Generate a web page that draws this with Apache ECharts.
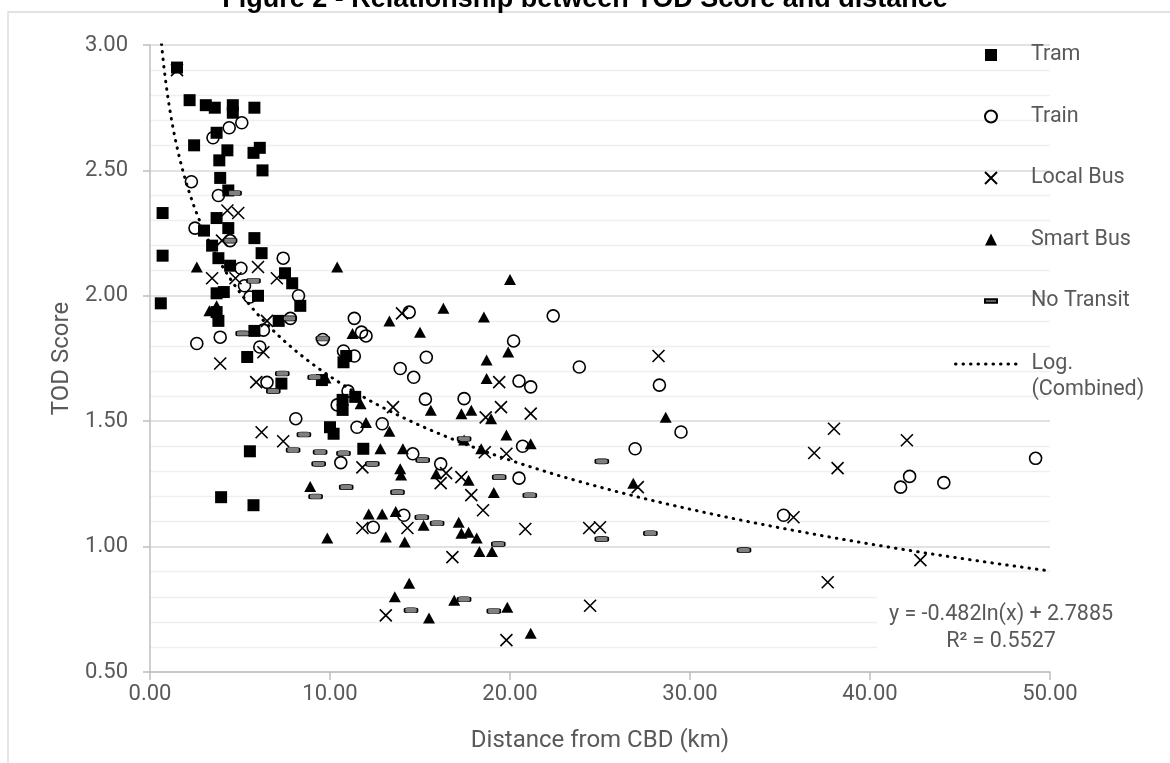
<!DOCTYPE html>
<html><head><meta charset="utf-8">
<script src="https://cdn.jsdelivr.net/npm/echarts@6/dist/echarts.min.js"></script>
<style>html,body{margin:0;padding:0;background:#fff}#c{width:1170px;height:763px}</style>
</head><body><div id="c"></div>
<script>
// Data: [distance km, TOD score]
const tram = [[1.5,2.91],[0.7,2.33],[0.7,2.16],[0.6,1.97],[2.2,2.78],[2.45,2.60],[3.1,2.76],[3.6,2.75],[4.6,2.76],[4.6,2.73],[5.8,2.75],[3.7,2.65],[4.3,2.58],[3.85,2.54],[5.75,2.57],[6.1,2.59],[6.25,2.50],[3.9,2.47],[4.35,2.42],[3.7,2.31],[4.35,2.27],[3.0,2.26],[3.45,2.20],[5.8,2.23],[6.2,2.17],[3.8,2.15],[4.45,2.12],[7.5,2.09],[7.9,2.05],[8.35,1.96],[3.7,2.01],[4.1,2.015],[6.0,2.00],[3.7,1.935],[3.8,1.90],[5.8,1.86],[7.15,1.90],[5.4,1.756],[10.9,1.76],[10.75,1.735],[9.55,1.664],[7.3,1.65],[10.7,1.585],[11.4,1.597],[10.7,1.545],[10.0,1.476],[10.2,1.45],[5.55,1.38],[11.85,1.39],[3.95,1.197],[5.75,1.165]];
const train = [[5.1,2.69],[4.4,2.67],[3.5,2.63],[2.3,2.455],[3.8,2.40],[2.5,2.27],[4.45,2.22],[7.4,2.15],[5.05,2.11],[5.25,2.04],[5.55,1.995],[8.25,2.00],[2.6,1.81],[3.9,1.835],[6.3,1.863],[7.8,1.91],[6.1,1.796],[6.5,1.655],[11.35,1.91],[11.75,1.855],[12.0,1.84],[9.6,1.826],[10.75,1.78],[11.35,1.76],[11.0,1.62],[10.4,1.565],[11.5,1.476],[12.9,1.49],[8.1,1.51],[10.6,1.335],[13.9,1.71],[14.4,1.935],[22.4,1.92],[20.2,1.82],[15.35,1.755],[14.65,1.675],[23.85,1.716],[20.5,1.66],[21.15,1.637],[15.3,1.588],[17.45,1.59],[14.6,1.37],[16.15,1.33],[20.7,1.40],[20.5,1.273],[14.1,1.125],[12.4,1.077],[29.5,1.457],[26.95,1.39],[35.2,1.125],[41.7,1.237],[28.3,1.644],[49.2,1.352],[42.2,1.28],[44.1,1.255]];
const localBus = [[1.5,2.90],[4.3,2.34],[4.9,2.33],[4.0,2.22],[3.45,2.07],[4.75,2.07],[6.0,2.115],[7.05,2.07],[3.9,1.73],[6.5,1.90],[6.3,1.775],[5.9,1.656],[6.2,1.456],[7.4,1.42],[11.8,1.316],[13.5,1.556],[14.0,1.93],[19.4,1.656],[19.5,1.556],[21.15,1.53],[18.65,1.515],[18.6,1.376],[19.8,1.37],[16.45,1.293],[17.3,1.277],[16.15,1.253],[17.85,1.205],[18.5,1.145],[11.8,1.074],[14.3,1.074],[20.85,1.07],[16.8,0.958],[13.1,0.726],[19.8,0.627],[24.4,1.074],[25.0,1.077],[24.45,0.764],[27.1,1.237],[35.75,1.117],[38.0,1.47],[36.9,1.373],[38.2,1.313],[37.65,0.858],[28.25,1.76],[42.05,1.424],[42.8,0.946]];
const smartBus = [[2.6,2.115],[10.4,2.115],[3.3,1.94],[3.7,1.96],[13.3,1.90],[11.25,1.85],[9.75,1.672],[11.7,1.57],[12.0,1.495],[12.8,1.39],[8.9,1.24],[13.3,1.46],[20.0,2.065],[16.3,1.95],[18.55,1.915],[15.0,1.855],[18.7,1.744],[19.9,1.776],[18.7,1.67],[15.6,1.544],[17.3,1.53],[17.85,1.544],[18.95,1.51],[19.8,1.445],[17.45,1.425],[18.4,1.39],[21.15,1.41],[14.05,1.39],[13.9,1.31],[13.95,1.285],[15.9,1.29],[17.7,1.265],[19.1,1.216],[12.15,1.13],[12.9,1.13],[13.65,1.14],[15.2,1.085],[17.15,1.097],[17.3,1.053],[17.7,1.057],[18.15,1.034],[13.1,1.038],[14.15,1.018],[9.85,1.034],[18.3,0.98],[19.0,0.98],[14.4,0.854],[13.6,0.80],[16.9,0.786],[15.5,0.715],[19.85,0.758],[21.15,0.655],[28.65,1.516],[26.85,1.253]];
const noTransit = [[4.7,2.41],[4.45,2.22],[5.75,2.06],[5.15,1.85],[7.75,1.91],[9.6,1.83],[7.35,1.69],[6.85,1.62],[9.15,1.675],[8.55,1.447],[7.95,1.385],[9.45,1.377],[10.75,1.372],[9.37,1.33],[12.35,1.33],[10.9,1.237],[9.2,1.20],[13.75,1.217],[15.15,1.345],[19.4,1.277],[21.1,1.205],[15.1,1.117],[15.95,1.093],[19.35,1.01],[14.5,0.746],[17.45,0.79],[19.1,0.743],[25.1,1.34],[25.1,1.03],[27.8,1.053],[33.0,0.986],[17.45,1.43]];

// Trendline coefficients as printed on the chart: y = -0.482 ln(x) + 2.7885
const trendA = -0.482, trendB = 2.7885;
const trendRange = [0.64, 50];
const trendPts = [];
for (let i = 0; i <= 300; i++) {
  const x = trendRange[0] * Math.pow(trendRange[1] / trendRange[0], i / 300);
  trendPts.push([x, trendA * Math.log(x) + trendB]);
}

const FONT = 'Roboto, "Liberation Sans", Arial, sans-serif';
const GREY = '#595959';

const chart = echarts.init(document.getElementById('c'), null, {renderer: 'canvas'});
chart.setOption({
  animation: false,
  backgroundColor: '#fff',
  grid: {left: 150, right: 120, top: 45, bottom: 91, containLabel: false},
  xAxis: {
    type: 'value', min: 0, max: 50, interval: 10,
    name: 'Distance from CBD (km)', nameLocation: 'middle', nameGap: 57,
    nameTextStyle: {fontFamily: FONT, fontSize: 24, color: GREY},
    axisLine: {show: true, lineStyle: {color: '#bfbfbf', width: 1.5}},
    axisTick: {show: true, length: 8, lineStyle: {color: '#bfbfbf', width: 1.5}},
    axisLabel: {fontFamily: FONT, fontSize: 22, color: GREY, margin: 11, formatter: v => v.toFixed(2)},
    splitLine: {show: false}
  },
  yAxis: {
    type: 'value', min: 0.5, max: 3, interval: 0.5,
    name: 'TOD Score', nameLocation: 'middle', nameGap: 76, nameRotate: 90,
    nameTextStyle: {fontFamily: FONT, fontSize: 24, color: GREY},
    axisLine: {show: true, lineStyle: {color: '#bfbfbf', width: 1.5}},
    axisTick: {show: true, length: 7, lineStyle: {color: '#bfbfbf', width: 1.5}},
    axisLabel: {fontFamily: FONT, fontSize: 22, color: GREY, margin: 22, formatter: v => v.toFixed(2)},
    splitLine: {show: true, lineStyle: {color: '#d9d9d9', width: 1.5}},
    minorTick: {show: false, splitNumber: 5},
    minorSplitLine: {show: true, lineStyle: {color: '#efefef', width: 1.3}}
  },
  legend: [{
    orient: 'vertical', left: 984, top: 43, padding: 0, itemWidth: 12, itemHeight: 12, itemGap: 37.5,
    selectedMode: false,
    data: [{name: 'Tram'}, {name: 'Train'}, {name: 'Local Bus'}, {name: 'Smart Bus'},
           {name: 'No Transit', icon: 'path://M0,0H13V4H0Z'}],
    itemStyle: {opacity: 1},
    textStyle: {fontFamily: FONT, fontSize: 21.5, color: GREY, lineHeight: 24, padding: [0, 0, 0, 29]}
  }, {
    orient: 'vertical', left: 954, top: 325, padding: 0, itemWidth: 63, itemHeight: 12,
    selectedMode: false,
    data: ['Log. (Combined)'],
    formatter: () => '\nLog.\n(Combined)',
    itemStyle: {color: 'rgba(0,0,0,0)', borderWidth: 0, opacity: 0},
    lineStyle: {color: '#000', width: 3, type: [0.5, 7], cap: 'round', opacity: 1},
    textStyle: {fontFamily: FONT, fontSize: 21.5, color: GREY, lineHeight: 26, padding: [0, 0, 0, 8]}
  }],
  graphic: [
    {type: 'rect', silent: true, z: -1, shape: {x: 8, y: 12, width: 1400, height: 1000},
     style: {fill: 'none', stroke: '#d9d9d9', lineWidth: 1.3}},
    {type: 'text', silent: true, x: 585, y: 0, z: 10,
     style: {text: 'Figure 2 - Relationship between TOD Score and distance',
             font: 'bold 27px "Liberation Sans", Arial, sans-serif', fill: '#000',
             align: 'center', verticalAlign: 'middle'}},
    {type: 'text', silent: true, x: 1001, y: 628, z: 100,
     style: {text: 'y = -0.482ln(x) + 2.7885\nR\u00b2 = 0.5527',
             font: '21.5px ' + FONT, fill: GREY, align: 'center', verticalAlign: 'middle',
             lineHeight: 27, backgroundColor: '#fff', padding: [8, 12, 8, 12]}}
  ],
  series: [
    {name: 'Tram', type: 'scatter', data: tram, symbol: 'rect', symbolSize: 12,
     itemStyle: {color: '#000', opacity: 1}},
    {name: 'Train', type: 'scatter', data: train, symbol: 'circle', symbolSize: 12,
     itemStyle: {color: 'rgba(0,0,0,0)', borderColor: '#000', borderWidth: 1.6, opacity: 1}},
    {name: 'Local Bus', type: 'scatter', data: localBus, symbol: 'path://M0,0L12,12M12,0L0,12', symbolSize: 12,
     itemStyle: {color: 'rgba(0,0,0,0)', borderColor: '#000', borderWidth: 1.6, opacity: 1}},
    {name: 'Smart Bus', type: 'scatter', data: smartBus, symbol: 'triangle', symbolSize: [12, 11],
     itemStyle: {color: '#000', opacity: 1}},
    {name: 'No Transit', type: 'scatter', data: noTransit, symbol: 'roundRect', symbolSize: [13, 5],
     itemStyle: {color: '#808080', borderColor: '#000', borderWidth: 1, opacity: 1}},
    {name: 'Log. (Combined)', type: 'line', data: trendPts, symbol: 'none', showSymbol: false,
     silent: true, z: 5, itemStyle: {color: '#000'},
     lineStyle: {color: '#000', width: 3, type: [0.5, 7], cap: 'round'}}
  ]
});
</script></body></html>
